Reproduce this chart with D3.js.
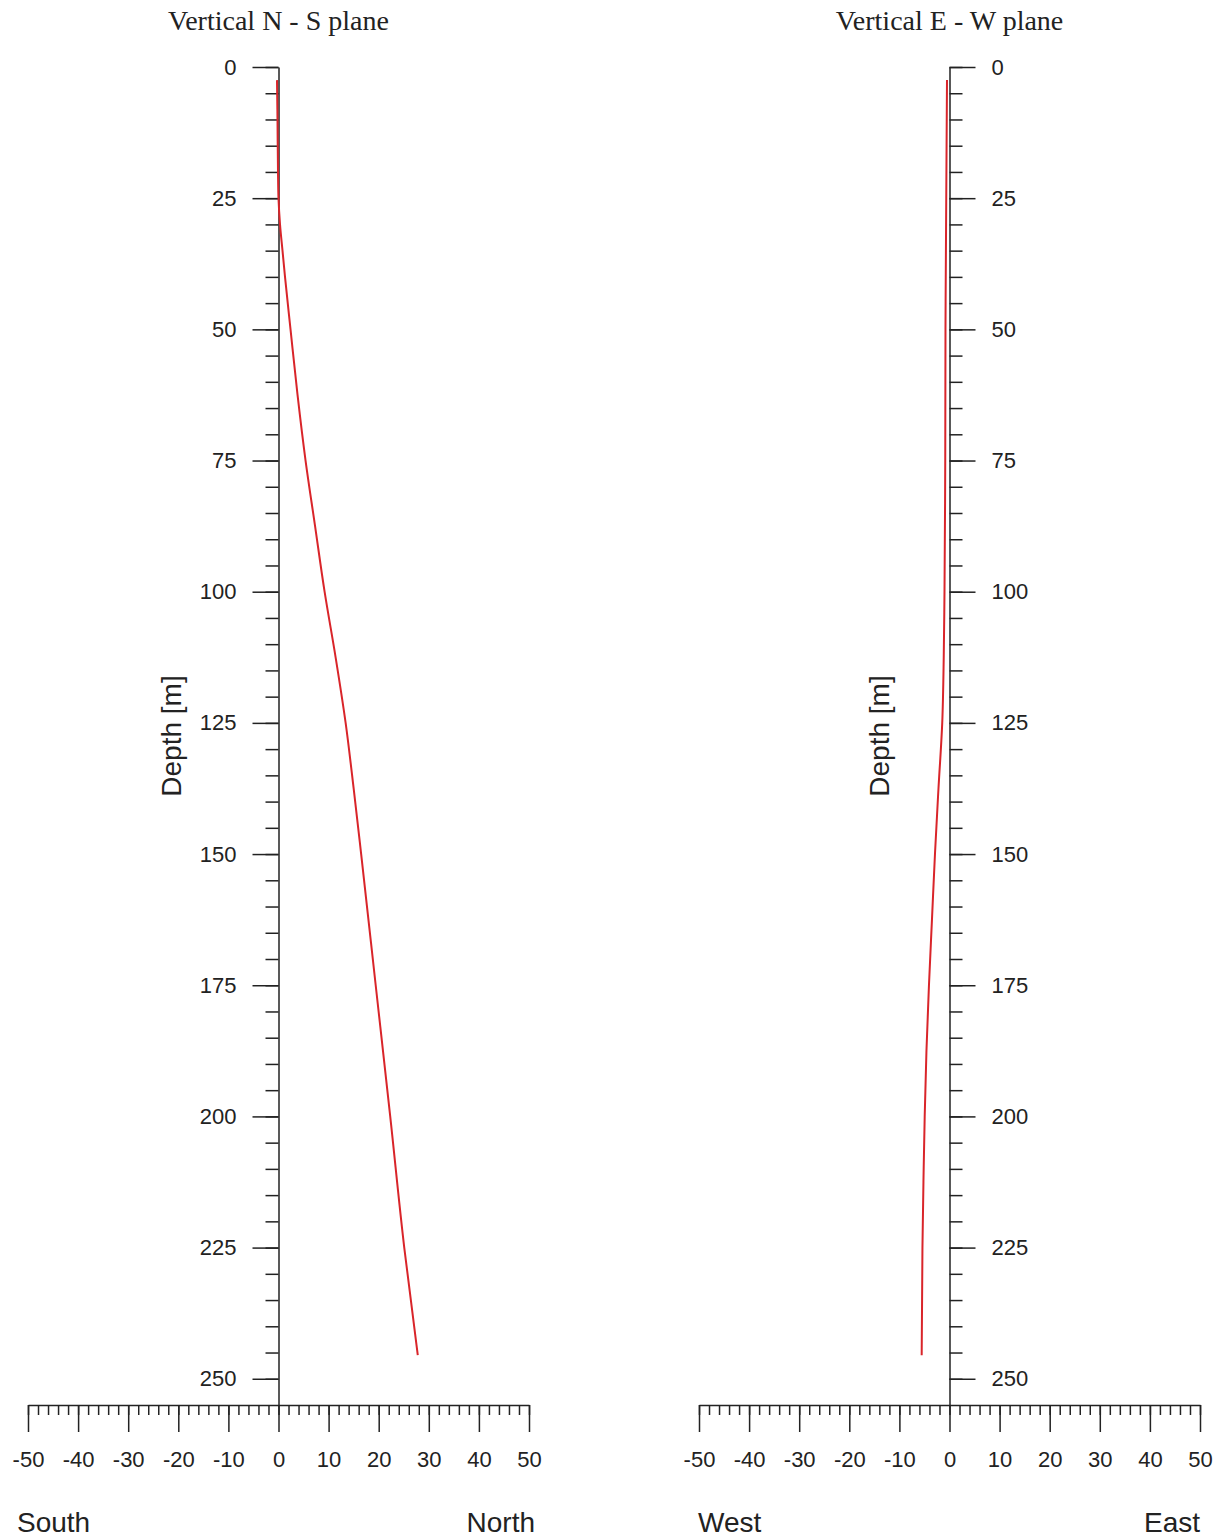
<!DOCTYPE html>
<html>
<head>
<meta charset="utf-8">
<script src="https://cdn.jsdelivr.net/npm/d3@7"></script>
<style>
body { margin: 0; background: #fff; }
</style>
</head>
<body>
<div id="chart"></div>
<script>
/*
Borehole deviation: two vertical planes
*/

// N-S plane, depth [m] and offset towards north [m]
var depthNS = [2.5, 10, 20, 25, 30, 35, 40, 50, 62.5, 75, 87.5, 100, 112.5, 125, 137.5, 150, 175, 200, 225, 245.5];
var northNS = [-0.3, -0.2, -0.1, 0, 0.3, 0.8, 1.3, 2.4, 3.8, 5.4, 7.3, 9.2, 11.4, 13.4, 15.0, 16.5, 19.4, 22.3, 25.1, 27.8];

// E-W plane, depth [m] and offset towards east [m]
var depthEW = [2.5, 10, 25, 50, 75, 100, 112.5, 125, 137.5, 150, 162.5, 175, 187.5, 200, 212.5, 225, 245.5];
var eastEW = [-0.5, -0.55, -0.65, -0.8, -0.85, -1.0, -1.15, -1.45, -2.2, -2.9, -3.5, -4.1, -4.6, -4.95, -5.2, -5.4, -5.55];

// tick labels
var offsetTicks = [-50, -40, -30, -20, -10, 0, 10, 20, 30, 40, 50];
var depthTicks = [0, 25, 50, 75, 100, 125, 150, 175, 200, 225, 250];

var panelTitles = ["Vertical N - S plane", "Vertical E - W plane"];
var leftLabels = ["South", "West"];
var rightLabels = ["North", "East"];
var depthLabel = "Depth [m]";

var svgWidth = 1227,
    svgHeight = 1538;

var sansFont = "'Liberation Sans', Arial, Helvetica, sans-serif",
    serifFont = "'Liberation Serif', 'Times New Roman', serif",
    inkColor = "#222",
    lineColor = "#d9252a";

var svg = d3.select("#chart")
    .append("svg")
        .attr("width", svgWidth)
        .attr("height", svgHeight);

// same depth scale for both panels
var y = d3.scaleLinear()
    .domain([0, 255])
    .range([67, 1405]);

var panels = [
    {left: 28, right: 529, side: "left", depth: depthNS, offset: northNS, labelDx: -11, rightDx: 6, depthX: -98},
    {left: 699, right: 1200, side: "right", depth: depthEW, offset: eastEW, labelDx: -1, rightDx: 0, depthX: -61}
];

panels.forEach((p, i) => drawPanel(p, i));

//--------------------------------------------------------------------------------
// Draw one plane
//--------------------------------------------------------------------------------
function drawPanel(p, i){
    var g = svg.append("g");

    var x = d3.scaleLinear()
        .domain([-50, 50])
        .range([p.left, p.right]);

    var x0 = x(0);

    // vertical depth axis, minor ticks every 5 m
    var axisFn = p.side === "left" ? d3.axisLeft : d3.axisRight;

    var yMinor = g.append("g")
        .attr("transform", `translate(${x0},0)`)
        .call(axisFn(y).tickValues(d3.range(0, 251, 5)).tickSize(13).tickSizeOuter(0).tickFormat(""));
    yMinor.select(".domain").remove();

    var yMajor = g.append("g")
        .attr("transform", `translate(${x0},0)`)
        .call(axisFn(y).tickValues(depthTicks).tickSize(26).tickSizeOuter(0).tickPadding(16).tickFormat(d => String(d)));

    // horizontal offset axis, minor ticks every 2 m
    var xMinor = g.append("g")
        .attr("transform", `translate(0,${y(255)})`)
        .call(d3.axisBottom(x).tickValues(d3.range(-50, 51, 2)).tickSize(10).tickSizeOuter(0).tickFormat(""));
    xMinor.select(".domain").remove();

    var xMajor = g.append("g")
        .attr("transform", `translate(0,${y(255)})`)
        .call(d3.axisBottom(x).tickValues(offsetTicks).tickSize(27).tickSizeOuter(0).tickPadding(19).tickFormat(d => String(d)));

    [yMinor, yMajor, xMinor, xMajor].forEach(a => {
        a.attr("color", inkColor)
            .attr("font-family", sansFont)
            .attr("font-size", 22);
        a.selectAll("line, path").attr("stroke-width", 1.5);
    });

    // borehole trace
    var pts = p.depth.map((d, k) => ({d: d, v: p.offset[k]}));
    var line = d3.line()
        .x(d => x(d.v))
        .y(d => y(d.d))
        .curve(d3.curveMonotoneY);

    g.append("path")
        .datum(pts)
        .attr("fill", "none")
        .attr("stroke", lineColor)
        .attr("stroke-width", 2)
        .attr("d", line);

    // title
    g.append("text")
        .attr("x", x0)
        .attr("y", 30)
        .attr("text-anchor", "middle")
        .attr("font-family", serifFont)
        .attr("font-size", 28)
        .attr("fill", inkColor)
        .text(panelTitles[i]);

    // depth label
    g.append("text")
        .attr("transform", `translate(${x0 + p.depthX},${(y.range()[0] + y.range()[1]) / 2}) rotate(-90)`)
        .attr("text-anchor", "middle")
        .attr("font-family", sansFont)
        .attr("font-size", 28)
        .attr("fill", inkColor)
        .text(depthLabel);

    // direction labels
    g.append("text")
        .attr("x", x(-50) + p.labelDx)
        .attr("y", 1532)
        .attr("font-family", sansFont)
        .attr("font-size", 28)
        .attr("fill", inkColor)
        .text(leftLabels[i]);

    g.append("text")
        .attr("x", x(50) + p.rightDx)
        .attr("y", 1532)
        .attr("text-anchor", "end")
        .attr("font-family", sansFont)
        .attr("font-size", 28)
        .attr("fill", inkColor)
        .text(rightLabels[i]);
}
</script>
</body>
</html>
